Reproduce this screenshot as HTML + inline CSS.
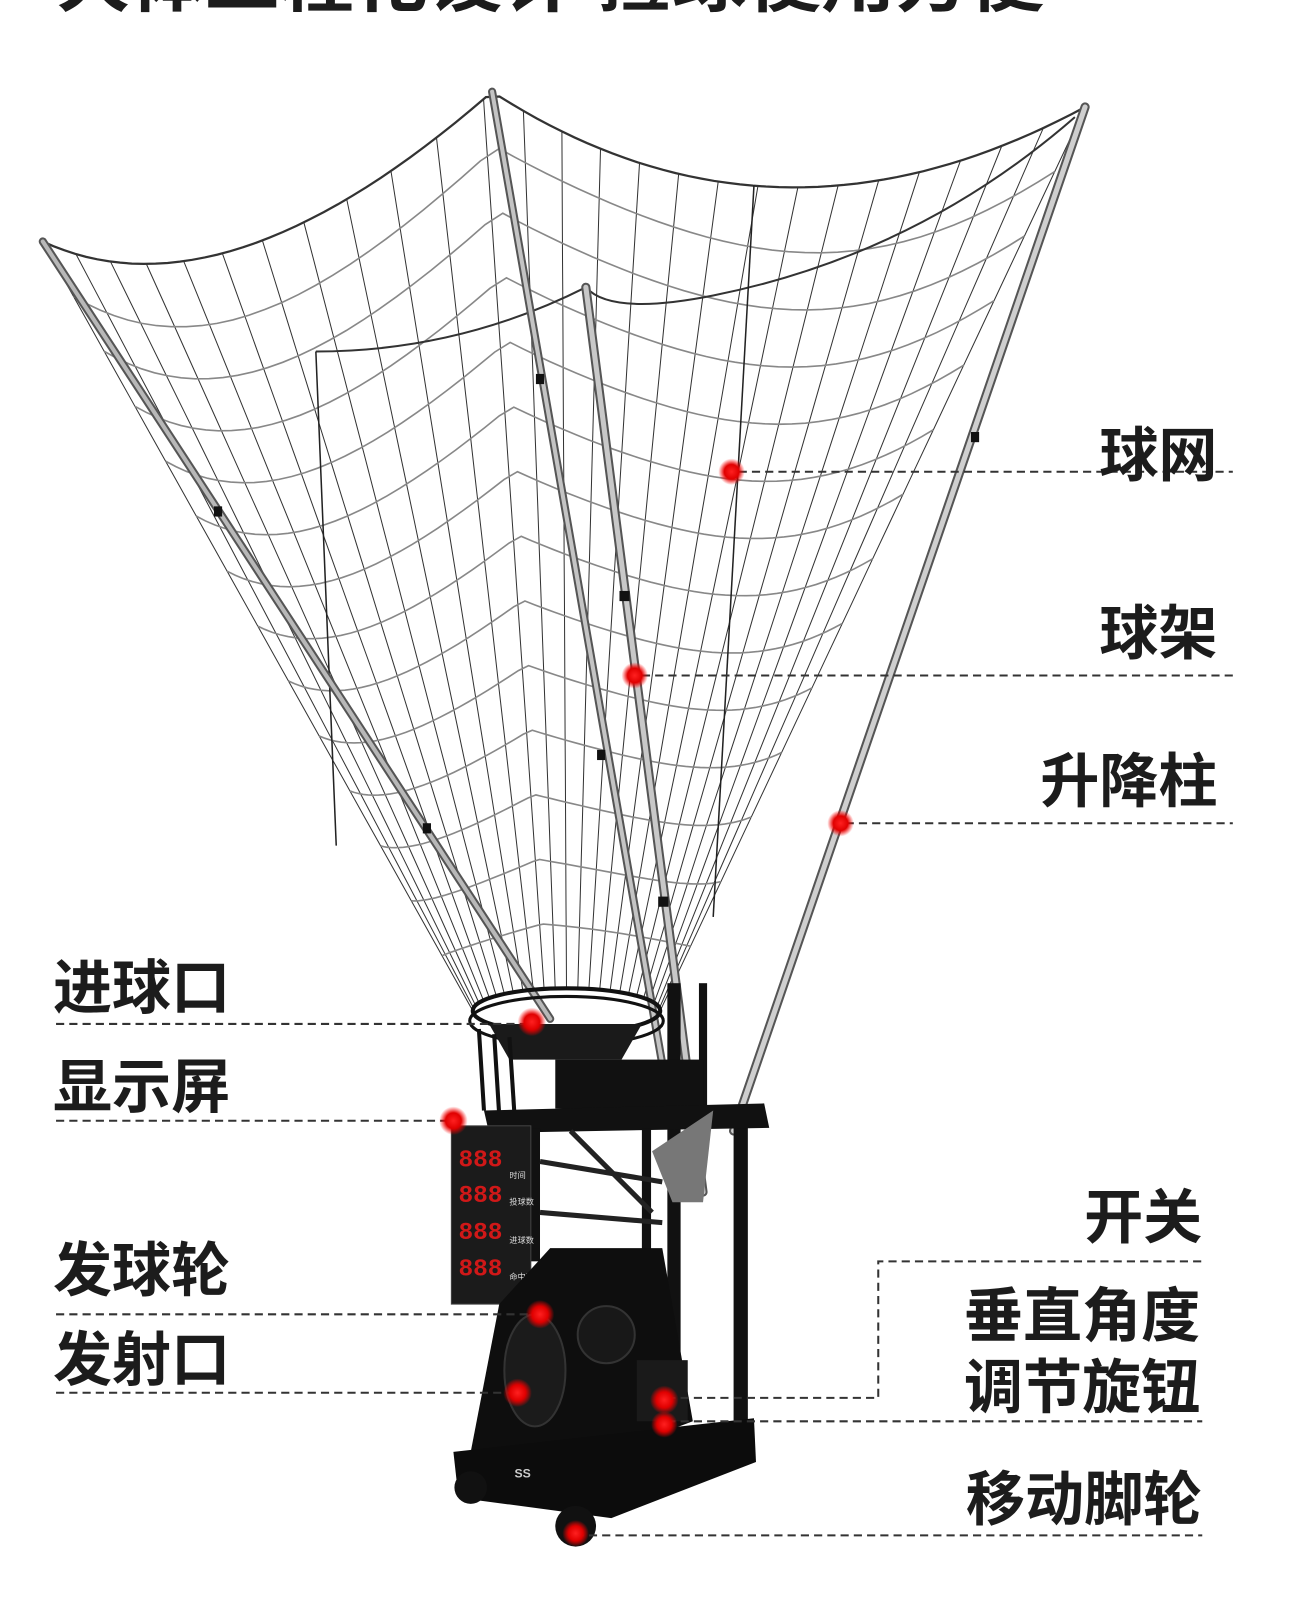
<!DOCTYPE html>
<html><head><meta charset="utf-8">
<style>
html,body{margin:0;padding:0;background:#fff;width:1296px;height:1600px;overflow:hidden}
svg{display:block}
.lb{font-family:"Liberation Sans","Noto Sans CJK SC",sans-serif;font-weight:bold;font-size:58px;fill:#1c1c1c}
</style></head><body>
<svg id="s" width="1296" height="1600" viewBox="0 0 1272 1570.4" xmlns="http://www.w3.org/2000/svg">
<defs>
<radialGradient id="rd"><stop offset="0" stop-color="#ff2020"/><stop offset="0.55" stop-color="#e00000"/><stop offset="1" stop-color="#ff0000" stop-opacity="0"/></radialGradient>
</defs>
<text x="55" y="6" class="lb" style="font-size:66px" textLength="970" lengthAdjust="spacingAndGlyphs">大体工程化设计  捡球使用方便</text>
<g id="net"></g>
<path d="M310 345 Q450 345 575 282" fill="none" stroke="#333" stroke-width="2"/>
<path d="M575 282 Q600 310 700 290 Q900 250 1055 115" fill="none" stroke="#333" stroke-width="2"/>
<line x1="310" y1="345" x2="330" y2="830" stroke="#222" stroke-width="1.5"/>
<line x1="740" y1="182" x2="700" y2="900" stroke="#222" stroke-width="1.5"/>
<g stroke-linecap="round">
<line x1="42" y1="237" x2="540" y2="1000" stroke="#555" stroke-width="8"/>
<line x1="42" y1="237" x2="540" y2="1000" stroke="#b8b8b8" stroke-width="4"/>
<line x1="483" y1="90" x2="665" y2="1130" stroke="#555" stroke-width="8"/>
<line x1="483" y1="90" x2="665" y2="1130" stroke="#c4c4c4" stroke-width="4"/>
<line x1="575" y1="282" x2="690" y2="1170" stroke="#555" stroke-width="9"/>
<line x1="575" y1="282" x2="690" y2="1170" stroke="#c8c8c8" stroke-width="5"/>
<line x1="1065" y1="105" x2="720" y2="1110" stroke="#555" stroke-width="9"/>
<line x1="1065" y1="105" x2="720" y2="1110" stroke="#cfcfcf" stroke-width="5"/>
</g>
<g fill="#111">
<rect x="210" y="497" width="8" height="10"/><rect x="415" y="808" width="8" height="10"/>
<rect x="526" y="367" width="8" height="10"/><rect x="586" y="736" width="8" height="10"/>
<rect x="608" y="580" width="10" height="10"/><rect x="646" y="880" width="10" height="10"/>
<rect x="953" y="424" width="8" height="10"/>
</g>
<ellipse cx="556" cy="992" rx="92" ry="22" fill="none" stroke="#111" stroke-width="4"/>
<ellipse cx="556" cy="1002" rx="95" ry="24" fill="none" stroke="#111" stroke-width="3"/>
<path d="M480 1005 L500 1040 L610 1040 L630 1005 Z" fill="#1a1a1a"/>
<g stroke="#111" stroke-width="4" fill="none">
<path d="M470 1010 L475 1090"/><path d="M485 1015 L490 1095"/><path d="M500 1018 L505 1095"/>
</g>
<g fill="#111">
<rect x="655" y="965" width="13" height="425"/>
<rect x="686" y="965" width="8" height="120"/>
<rect x="720" y="1100" width="14" height="295"/>
<rect x="545" y="1040" width="145" height="48"/>
<polygon points="475,1090 750,1083 755,1107 480,1112"/>
<rect x="520" y="1108" width="10" height="130"/>
<rect x="630" y="1108" width="9" height="130"/>
</g>
<g stroke="#222" stroke-width="5">
<line x1="530" y1="1140" x2="650" y2="1160"/><line x1="530" y1="1190" x2="650" y2="1200"/>
<line x1="560" y1="1110" x2="640" y2="1190"/>
</g>
<path d="M640 1130 L700 1090 L690 1180 L660 1180 Z" fill="#777"/>
<rect x="443" y="1105" width="78" height="175" fill="#1b1b1b" stroke="#444"/>
<g font-family="Liberation Mono,monospace" font-weight="bold" font-size="24" fill="#d01818">
<text x="450" y="1145">888</text><text x="450" y="1180">888</text><text x="450" y="1216">888</text><text x="450" y="1252">888</text>
</g>
<g font-family="Noto Sans CJK SC,sans-serif" font-size="8" fill="#ddd">
<text x="500" y="1156">时间</text><text x="500" y="1182">投球数</text><text x="500" y="1220">进球数</text><text x="500" y="1256">命中率</text>
</g>
<polygon points="490,1280 540,1225 650,1225 680,1395 600,1425 462,1425" fill="#0e0e0e"/>
<ellipse cx="525" cy="1345" rx="30" ry="55" fill="#1b1b1b" stroke="#333" stroke-width="2"/>
<circle cx="595" cy="1310" r="28" fill="#181818" stroke="#333" stroke-width="2"/>
<rect x="625" y="1335" width="50" height="60" fill="#1a1a1a"/>
<polygon points="445,1425 740,1392 742,1435 600,1490 450,1470" fill="#0c0c0c"/>
<text x="505" y="1450" font-family="Liberation Sans,sans-serif" font-size="12" font-weight="bold" fill="#ccc">SS</text>
<circle cx="565" cy="1498" r="20" fill="#111"/>
<circle cx="462" cy="1460" r="16" fill="#111"/>
<g stroke="#333" stroke-width="2" stroke-dasharray="8,5" fill="none">
<line x1="725" y1="463" x2="1210" y2="463"/>
<line x1="630" y1="663" x2="1210" y2="663"/>
<line x1="830" y1="808" x2="1210" y2="808"/>
<line x1="55" y1="1005" x2="520" y2="1005"/>
<line x1="55" y1="1100" x2="445" y2="1100"/>
<line x1="55" y1="1290" x2="530" y2="1290"/>
<line x1="55" y1="1367" x2="508" y2="1367"/>
<polyline points="655,1372 862,1372 862,1238 1180,1238"/>
<line x1="655" y1="1395" x2="1180" y2="1395"/>
<line x1="565" y1="1507" x2="1180" y2="1507"/>
</g>
<g fill="url(#rd)">
<circle cx="718" cy="463" r="13"/><circle cx="623" cy="663" r="13"/><circle cx="825" cy="808" r="13"/>
<circle cx="522" cy="1003" r="14"/><circle cx="445" cy="1100" r="14"/><circle cx="530" cy="1290" r="14"/>
<circle cx="508" cy="1367" r="14"/><circle cx="652" cy="1374" r="14"/><circle cx="652" cy="1398" r="13"/>
<circle cx="565" cy="1505" r="13"/>
</g>
<text class="lb" x="1195" y="467" text-anchor="end">球网</text>
<text class="lb" x="1195" y="642" text-anchor="end">球架</text>
<text class="lb" x="1195" y="787" text-anchor="end">升降柱</text>
<text class="lb" x="52" y="990">进球口</text>
<text class="lb" x="52" y="1087">显示屏</text>
<text class="lb" x="52" y="1267">发球轮</text>
<text class="lb" x="52" y="1355">发射口</text>
<text class="lb" x="1180" y="1215" text-anchor="end">开关</text>
<text class="lb" x="1178" y="1312" text-anchor="end">垂直角度</text>
<text class="lb" x="1178" y="1382" text-anchor="end">调节旋钮</text>
<text class="lb" x="1180" y="1492" text-anchor="end">移动脚轮</text>
</svg>
<script>
(function(){
var g=document.getElementById('net'),NS='http://www.w3.org/2000/svg';
function q(a,c,b,t){return [(1-t)*(1-t)*a[0]+2*(1-t)*t*c[0]+t*t*b[0],(1-t)*(1-t)*a[1]+2*(1-t)*t*c[1]+t*t*b[1]];}
var A=[42,237],B=[483,90],C=[1065,105];
function T(s){return s<0.43?q(A,[220,320],B,s/0.43):q(B,[760,270],C,(s-0.43)/0.57);}
function Bt(s){var th=Math.PI+s*Math.PI;return [556+92*Math.cos(th),992+22*Math.sin(th)];}
function P(s,u){var t=T(s),b=Bt(s);return [t[0]+(b[0]-t[0])*u,t[1]+(b[1]-t[1])*u];}
function line(pts,col,w){var p=document.createElementNS(NS,'polyline');p.setAttribute('points',pts.map(function(x){return x[0].toFixed(1)+','+x[1].toFixed(1)}).join(' '));p.setAttribute('fill','none');p.setAttribute('stroke',col);p.setAttribute('stroke-width',w);g.appendChild(p);}
var N=26,i,j,pts;
for(i=0;i<=N;i++){pts=[];for(j=0;j<=20;j++)pts.push(P(i/N,j/20));line(pts,'#333',1);}
for(j=1;j<=13;j++){pts=[];var u=j/14;for(i=0;i<=60;i++){var p=P(i/60,u);p[1]+=Math.sin(i/60*Math.PI*3)*12*(1-u);pts.push(p);}line(pts,'#888',1.6);}
line((function(){var r=[];for(i=0;i<=80;i++)r.push(T(i/80));return r;})(),'#333',2.2);
})();
</script>
</body></html>
